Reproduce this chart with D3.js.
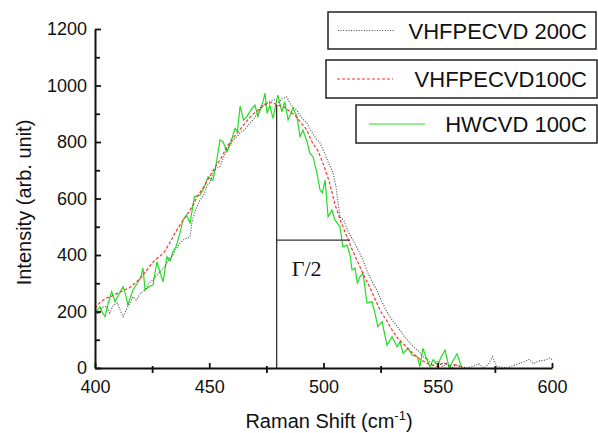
<!DOCTYPE html>
<html>
<head>
<meta charset="utf-8">
<script src="https://cdn.jsdelivr.net/npm/d3@7"></script>
<style>
  html, body { margin: 0; padding: 0; background: #fff; }
  svg { display: block; }
  text { font-family: "Liberation Sans", Arial, Helvetica, sans-serif; fill: #111; }
</style>
</head>
<body>
<svg id="chart" width="598" height="433"></svg>
<script>
// ---------- data ----------
const seriesNames = ["VHFPECVD 200C", "VHFPECVD100C", "HWCVD 100C"];

const hwX = [400,401,402.2,403.3,404.4,405.8,407.3,408.8,410.5,412.3,413.4,414.4,415.5,416.6,418.5,420,421,421.9,423.6,425.4,427.1,428.4,429.8,431.5,433,434.1,435.5,437.2,438.5,440,441.6,443.5,446,447.8,449.5,451.6,453,454.7,456,457.8,459.5,461.3,462.3,463.5,465,466.5,468.7,470,471.3,473.5,474.4,475.3,476.5,477.9,480,481.8,483,484.5,486.6,488.4,489.7,491,492.8,494,495.4,497,498.5,499.5,500.7,502,503.7,505,507.2,508.5,510.3,511.6,512.5,513.8,514.8,516,517.3,519,521.2,522.5,523.8,525.6,527.8,530,532.2,533.5,534.8,537,538.7,541,542.2,543.5,545.3,546.6,548,550,551.5,553.2,555,557,558.4,560.6];
const hwY = [190,205,217,195,182,230,270,235,262,288,260,223,250,276,300,320,354,276,288,294,376,340,305,394,380,412,430,478,524,541,513,606,612,640,677,665,720,807,801,766,800,848,837,927,878,890,919,931,890,943,972,902,930,884,966,907,943,878,920,890,819,842,801,761,748,695,630,620,665,535,559,524,500,429,435,400,347,354,301,323,336,230,235,195,146,164,81,111,75,93,52,70,46,40,5,70,28,4,30,10,40,63,0,30,50,0];

const v100X = [400,402.5,405,407.5,410,412.5,415,417.5,420,422.5,425,427.5,430,432.5,435,437.5,440,442.5,445,447.5,450,452.5,455,457.5,460,462.5,465,467.5,470,472.5,475,477.5,480,482.5,485,487.5,490,492.5,495,497.5,500,502.5,505,507.5,510,512.5,515,517.5,520,522.5,525,527.5,530,532.5,535,537.5,540,542.5,545,547.5,550,552.5,555,557.5,560];
const v100Y = [212,235,248,255,265,275,283,300,318,345,372,390,407,440,478,510,540,570,610,640,675,710,740,780,810,835,860,885,905,920,935,940,930,925,910,895,870,845,800,770,720,660,580,520,470,420,375,330,290,245,200,170,135,105,85,65,45,30,18,10,5,20,8,12,5];

const v200X = [400,401.5,403,405,406.5,408,409.8,411,412.3,414,416.6,418,420,421.9,423.5,425,427.1,429,430.5,432.8,434,435.5,437.2,439,441.6,442.5,444,446,447.5,448.9,450.5,452,454.7,456,457.6,459,461,463.5,465,467,469.1,471,472.9,474.5,476.6,478.5,480.5,482,483.9,485.5,486.5,488.3,490,492.7,494.5,496.5,498.5,500.5,502,504.2,505.5,507.2,509,511,512.9,515,517.3,519,521,523.3,525,527,529,531,533.5,535.5,537.9,540,541.5,543.6,545.5,548,550,552,554,556,558,560,563,566,568,570,572,574,575,576,580,583,587,590,592,594,597,599,600];
const v200Y = [200,190,215,218,195,222,230,205,182,210,252,240,265,276,300,310,329,345,360,389,400,420,442,455,465,520,559,595,610,642,660,700,713,740,772,790,810,832,840,860,878,900,925,935,943,950,940,955,960,935,925,913,890,867,840,815,796,760,730,690,640,536,520,480,453,420,382,345,310,276,245,210,182,160,134,110,88,70,60,40,30,10,25,5,15,0,10,5,0,8,15,0,12,40,20,5,0,8,20,30,15,25,28,35,30];

const xTicks = [400,450,500,550,600];
const xMinorTicks = [425,475,525,575];
const yTicks = [0,200,400,600,800,1000,1200];
const yMinorTicks = [100,300,500,700,900,1100];

// annotation (Γ/2 marker)
const peakPos = 479.5, peakVal = 932, halfVal = 453, halfPos = 511.6;
const annotationLabel = "Γ/2";

// ---------- drawing ----------
const svg = d3.select("#chart");
const x = d3.scaleLinear().domain([400, 600]).range([95, 552]);
const y = d3.scaleLinear().domain([0, 1200]).range([368, 29]);

const line = d3.line().x(d => x(d[0])).y(d => y(d[1]));
const zip = (a, b) => a.map((v, i) => [v, b[i]]);

const series = [
  { name: seriesNames[0], data: zip(v200X, v200Y), color: "#444", width: 1.1, dash: "1,1.6" },
  { name: seriesNames[1], data: zip(v100X, v100Y), color: "#ff3030", width: 1.2, dash: "3,2" },
  { name: seriesNames[2], data: zip(hwX, hwY), color: "#22dd22", width: 1.2, dash: null }
];

[series[2], series[1], series[0]].forEach(s => {
  svg.append("path")
    .datum(s.data)
    .attr("fill", "none")
    .attr("stroke", s.color)
    .attr("stroke-width", s.width)
    .attr("stroke-dasharray", s.dash)
    .attr("d", line);
});

// annotation lines
svg.append("line")
  .attr("x1", x(peakPos)).attr("x2", x(peakPos))
  .attr("y1", y(0)).attr("y2", y(peakVal))
  .attr("stroke", "#333").attr("stroke-width", 1.3);
svg.append("line")
  .attr("x1", x(peakPos)).attr("x2", x(halfPos))
  .attr("y1", y(halfVal)).attr("y2", y(halfVal))
  .attr("stroke", "#333").attr("stroke-width", 1.3);
svg.append("text")
  .attr("x", x(peakPos) + 15).attr("y", y(halfVal) + 36)
  .style("font-family", "'Liberation Serif', 'Times New Roman', serif")
  .style("font-size", "22px")
  .text(annotationLabel);

// axes
const fmt = d3.format("d");
const yAxis = d3.axisLeft(y).tickValues(yTicks).tickFormat(fmt).tickSizeInner(-6).tickSizeOuter(0).tickPadding(8);
const gy = svg.append("g").attr("transform", `translate(${x(400)},0)`).call(yAxis);
gy.select(".domain").attr("stroke", "#111").attr("stroke-width", 2);
gy.selectAll(".tick line").attr("stroke", "#111").attr("stroke-width", 1.8);
gy.selectAll(".tick text").style("font-size", "18px").attr("fill", "#111")
  .style("font-family", "'Liberation Sans', Arial, sans-serif");

const yMinor = d3.axisLeft(y).tickValues(yMinorTicks).tickSizeInner(-5).tickSizeOuter(0).tickFormat("");
const gym = svg.append("g").attr("transform", `translate(${x(400)},0)`).call(yMinor);
gym.select(".domain").remove();
gym.selectAll(".tick line").attr("stroke", "#111").attr("stroke-width", 1.8);

const xAxis = d3.axisBottom(x).tickValues(xTicks).tickFormat(fmt).tickSizeInner(-5).tickSizeOuter(0).tickPadding(12);
const gx = svg.append("g").attr("transform", `translate(0,${y(0)})`).call(xAxis);
gx.select(".domain").attr("stroke", "#111").attr("stroke-width", 2);
gx.selectAll(".tick line").attr("stroke", "#111").attr("stroke-width", 1.8);
gx.selectAll(".tick text").style("font-size", "18px").attr("fill", "#111")
  .style("font-family", "'Liberation Sans', Arial, sans-serif");

const xMinor = d3.axisBottom(x).tickValues(xMinorTicks).tickSizeInner(5).tickSizeOuter(0).tickFormat("");
const gxm = svg.append("g").attr("transform", `translate(0,${y(0)})`).call(xMinor);
gxm.select(".domain").remove();
gxm.selectAll(".tick line").attr("y1", -2).attr("stroke", "#111").attr("stroke-width", 1.8);

// axis titles
svg.append("text")
  .attr("transform", `translate(31,${(y(0) + y(1200)) / 2 + 4}) rotate(-90)`)
  .attr("text-anchor", "middle")
  .style("font-size", "20px")
  .text("Intensity (arb. unit)");

const xt = svg.append("text")
  .attr("x", 329).attr("y", 428)
  .attr("text-anchor", "middle")
  .style("font-size", "20px");
xt.append("tspan").text("Raman Shift (cm");
xt.append("tspan").attr("dy", -8).style("font-size", "13px").text("-1");
xt.append("tspan").attr("dy", 8).text(")");

// legend
const legendBoxes = [
  { x0: 328, y0: 12, w: 268, h: 37 },
  { x0: 326, y0: 60, w: 271, h: 38 },
  { x0: 356, y0: 105, w: 241, h: 38 }
];
const legendLines = [[338, 395], [337, 393], [369, 425]];
series.forEach((s, i) => {
  const b = legendBoxes[i];
  const g = svg.append("g");
  g.append("rect")
    .attr("x", b.x0).attr("y", b.y0).attr("width", b.w).attr("height", b.h)
    .attr("fill", "#fff").attr("stroke", "#222").attr("stroke-width", 1.5);
  g.append("line")
    .attr("x1", legendLines[i][0]).attr("x2", legendLines[i][1])
    .attr("y1", b.y0 + b.h / 2).attr("y2", b.y0 + b.h / 2)
    .attr("stroke", s.color).attr("stroke-width", s.width)
    .attr("stroke-dasharray", s.dash);
  g.append("text")
    .attr("x", 587).attr("y", b.y0 + b.h / 2 + 8)
    .attr("text-anchor", "end")
    .style("font-size", "22px")
    .text(s.name);
});
</script>
</body>
</html>
